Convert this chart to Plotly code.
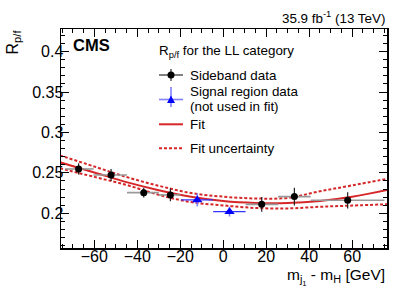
import plotly.graph_objects as go

# ---- data ----
sb_x = [-67.3, -52.2, -37.0, -24.6, 17.9, 33.1, 57.9]
sb_y = [0.2548, 0.2474, 0.2255, 0.2227, 0.2110, 0.2206, 0.2160]
sb_ey = [0.007, 0.0075, 0.006, 0.008, 0.009, 0.011, 0.010]
sb_exm = [6.2, 8.2, 7.8, 5.4, 7.5, 7.6, 17.2]
sb_exp = [7.0, 7.4, 7.0, 4.6, 7.6, 7.6, 17.1]

sr_x = [-12.1, 2.9]
sr_y = [0.2165, 0.2020]
sr_ey = [0.008, 0.006]
sr_exm = [7.5, 7.6]
sr_exp = [7.4, 7.5]

fit_x = [-76, -60, -45, -30, -15, 0, 15, 30, 45, 60, 77]
fit_c = [0.2630, 0.2505, 0.2385, 0.2285, 0.2205, 0.2152, 0.2128, 0.2127, 0.2152, 0.2204, 0.2292]
fit_hi = [0.2716, 0.2578, 0.2448, 0.2340, 0.2250, 0.2205, 0.2183, 0.2190, 0.2272, 0.2345, 0.2430]
fit_lo = [0.2556, 0.2450, 0.2350, 0.2228, 0.2138, 0.2097, 0.2065, 0.2060, 0.2080, 0.2095, 0.2112]

RED = "rgb(214,39,40)"
FONT = "Liberation Sans, Arial, Helvetica, sans-serif"

fig = go.Figure()
for yy in (fit_hi, fit_lo):
    fig.add_trace(go.Scatter(x=fit_x, y=yy, mode="lines", line=dict(color=RED, width=2, dash="3px,2px", shape="spline"),
                             hoverinfo="skip", showlegend=False))
fig.add_trace(go.Scatter(x=fit_x, y=fit_c, mode="lines", line=dict(color=RED, width=2, shape="spline"), showlegend=False))

fig.add_trace(go.Scatter(x=sb_x, y=sb_y, mode="markers",
                         marker=dict(symbol="circle", size=7, color="black"),
                         error_y=dict(type="data", array=sb_ey, color="#222222", thickness=1.2, width=0),
                         error_x=dict(type="data", array=sb_exp, arrayminus=sb_exm, symmetric=False,
                                      color="#999999", thickness=1.6, width=0),
                         showlegend=False))
fig.add_trace(go.Scatter(x=sr_x, y=sr_y, mode="markers",
                         marker=dict(symbol="triangle-up", size=9, color="#0000ff"),
                         error_y=dict(type="data", array=sr_ey, color="#8080ff", thickness=1.6, width=0),
                         error_x=dict(type="data", array=sr_exp, arrayminus=sr_exm, symmetric=False,
                                      color="#3333ff", thickness=1.2, width=0),
                         showlegend=False))

# plot area at 61..387 x 29..248 in a 407x292 figure (page body margin removed below)
PL, PT, PW, PH = 61, 29, 326, 219
def px(x): return (x - PL) / PW
def py(y): return (PT + PH - y) / PH

shapes = []
ann = []
def line(x0, y0, x1, y1, color, width=1, dash="solid"):
    shapes.append(dict(type="line", xref="paper", yref="paper", x0=px(x0), y0=py(y0), x1=px(x1), y1=py(y1),
                       line=dict(color=color, width=width, dash=dash)))
def text(x, y, s, size=13.4, xanchor="left", yanchor="middle", **kw):
    ann.append(dict(x=px(x), y=py(y), xref="paper", yref="paper", text=s, showarrow=False,
                    xanchor=xanchor, yanchor=yanchor, font=dict(family=FONT, size=size, color="black"), **kw))

# legend
text(157, 51.7, "R<sub>p/f</sub> for the LL category")
line(159, 75, 183, 75, "black", 1)
line(171, 69, 171, 81, "black", 1)
shapes.append(dict(type="circle", xref="paper", yref="paper", x0=px(167.5), x1=px(174.5), y0=py(78.5), y1=py(71.5),
                   fillcolor="black", line=dict(color="black", width=0)))
text(188, 75, "Sideband data")
line(159, 99.5, 183, 99.5, "#8080ff", 1.6)
line(171, 87, 171, 107, "#8080ff", 1.6)
shapes.append(dict(type="path", xref="paper", yref="paper",
                   path=f"M {px(167)} {py(103)} L {px(175)} {py(103)} L {px(171)} {py(95.5)} Z",
                   fillcolor="#0000ff", line=dict(color="#0000ff", width=0)))
text(188, 91.7, "Signal region data")
text(188, 106, "(not used in fit)")
line(159, 124.3, 183, 124.3, RED, 2)
text(188, 124.3, "Fit")
line(159, 148.3, 183, 148.3, RED, 2, "3px,2px")
text(188, 148.3, "Fit uncertainty")

# labels
text(387, 18, "35.9 fb<sup>-1</sup> (13 TeV)", size=13.4, xanchor="right")
text(70.5, 44.7, "<b>CMS</b>", size=16.5)
text(387, 276.5, "m<sub>j<sub>1</sub></sub> - m<sub>H</sub> [GeV]", size=15.5, xanchor="right")
text(13, 28, "R<sub>p/f</sub>", size=16, xanchor="center", yanchor="top", textangle=-90)

axis_common = dict(showline=True, linecolor="black", linewidth=1.5, mirror="allticks", ticks="inside",
                   tickcolor="black", tickwidth=1, ticklen=8, showgrid=False, zeroline=False, automargin=False,
                   tickfont=dict(family=FONT, size=16, color="black"))
fig.update_layout(
    width=407, height=292,
    margin=dict(l=PL, r=407 - PL - PW, t=PT, b=292 - PT - PH, pad=0),
    paper_bgcolor="white", plot_bgcolor="white", showlegend=False,
    xaxis=dict(range=[-75.5, 76.2], dtick=20, tick0=0, ticklabelstandoff=-7,
               minor=dict(ticks="inside", ticklen=4, dtick=5, tickcolor="black", tickwidth=1), **axis_common),
    yaxis=dict(range=[0.157, 0.428], dtick=0.05, tick0=0, ticklabelstandoff=-7,
               minor=dict(ticks="inside", ticklen=4, dtick=0.01, tickcolor="black", tickwidth=1), **axis_common),
    shapes=shapes, annotations=ann,
)
fig.write_html("out.html", config={"displayModeBar": False, "staticPlot": True},
               post_script="document.body.style.margin='0';")
